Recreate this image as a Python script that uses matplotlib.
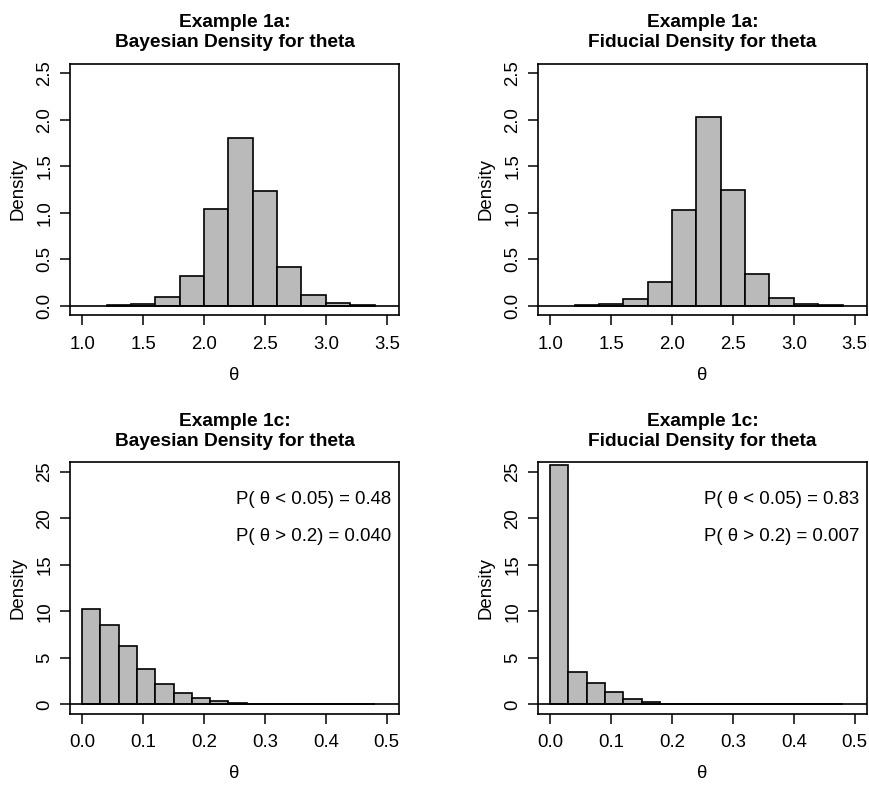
import numpy as np
import matplotlib
matplotlib.use("Agg")
import matplotlib.pyplot as plt

plt.rcParams['font.family'] = ['Liberation Sans', 'DejaVu Sans']

## histogram values
edges_a = np.round(np.arange(1.2, 3.41, 0.2), 2)
bayes_a = [0.004, 0.02, 0.09, 0.32, 1.035, 1.80, 1.236, 0.415, 0.115, 0.03, 0.005]
fid_a = [0.007, 0.02, 0.068, 0.25, 1.03, 2.025, 1.246, 0.336, 0.082, 0.02, 0.004]

edges_c = np.round(np.arange(0.0, 0.481, 0.03), 2)
bayes_c = [10.23, 8.53, 6.25, 3.82, 2.2, 1.24, 0.66, 0.39, 0.15, 0.08, 0.05, 0.03, 0.02, 0.01, 0.01, 0.005]
fid_c = [25.75, 3.44, 2.32, 1.3, 0.6, 0.3, 0.08, 0.04, 0.02, 0.01, 0.01, 0.005, 0.0, 0.0, 0.0, 0.0]

titles = ["Example 1a:\nBayesian Density for theta", "Example 1a:\nFiducial Density for theta",
          "Example 1c:\nBayesian Density for theta", "Example 1c:\nFiducial Density for theta"]
probs_bayes = ["P( \u03b8 < 0.05) = 0.48", "P( \u03b8 > 0.2) = 0.040"]
probs_fid = ["P( \u03b8 < 0.05) = 0.83", "P( \u03b8 > 0.2) = 0.007"]

fig = plt.figure(figsize=(8.7, 7.85), dpi=100)
w, h = 0.378, 0.32
positions = [(0.0805, 0.5987), (0.6184, 0.5987), (0.0805, 0.0909), (0.6184, 0.0909)]
axes = [fig.add_axes([x, y, w, h]) for x, y in positions]

panels = [(edges_a, bayes_a, None), (edges_a, fid_a, None),
          (edges_c, bayes_c, probs_bayes), (edges_c, fid_c, probs_fid)]

for i, (ax, (edges, vals, probs)) in enumerate(zip(axes, panels)):
    width = edges[1] - edges[0]
    ax.bar(edges[:-1], vals, width=width, align='edge', color='#bababa',
           edgecolor='black', linewidth=1.2, zorder=2)
    ax.axhline(0, color='black', linewidth=1.2, zorder=3)
    if i < 2:
        ax.set_xlim(0.9, 3.6)
        ax.set_ylim(-0.1, 2.6)
        ax.set_xticks([1.0, 1.5, 2.0, 2.5, 3.0, 3.5])
        ax.set_yticks([0.0, 0.5, 1.0, 1.5, 2.0, 2.5])
        ax.set_xticklabels(["1.0", "1.5", "2.0", "2.5", "3.0", "3.5"])
        ax.set_yticklabels(["0.0", "0.5", "1.0", "1.5", "2.0", "2.5"])
    else:
        ax.set_xlim(-0.02, 0.52)
        ax.set_ylim(-1, 26)
        ax.set_xticks([0.0, 0.1, 0.2, 0.3, 0.4, 0.5])
        ax.set_yticks([0, 5, 10, 15, 20, 25])
        ax.set_xticklabels(["0.0", "0.1", "0.2", "0.3", "0.4", "0.5"])
        ax.text(0.252, 22, probs[0], fontsize=13.4, va='center', ha='left')
        ax.text(0.252, 18, probs[1], fontsize=13.4, va='center', ha='left')
    for lab in ax.get_yticklabels():
        lab.set_rotation(90)
        lab.set_va('center')
    ax.tick_params(direction='out', length=7, width=1.1, labelsize=13.4, pad=5)
    ax.tick_params(axis='x', pad=8)
    for s in ax.spines.values():
        s.set_linewidth(1.2)
    ax.set_title(titles[i], fontsize=13.8, fontweight='bold', linespacing=1.25, pad=12)
    ax.set_ylabel("Density", fontsize=13.4, labelpad=7)
    ax.set_xlabel("\u03b8", fontsize=13.4, labelpad=10)

fig.savefig("out.png", dpi=100)
